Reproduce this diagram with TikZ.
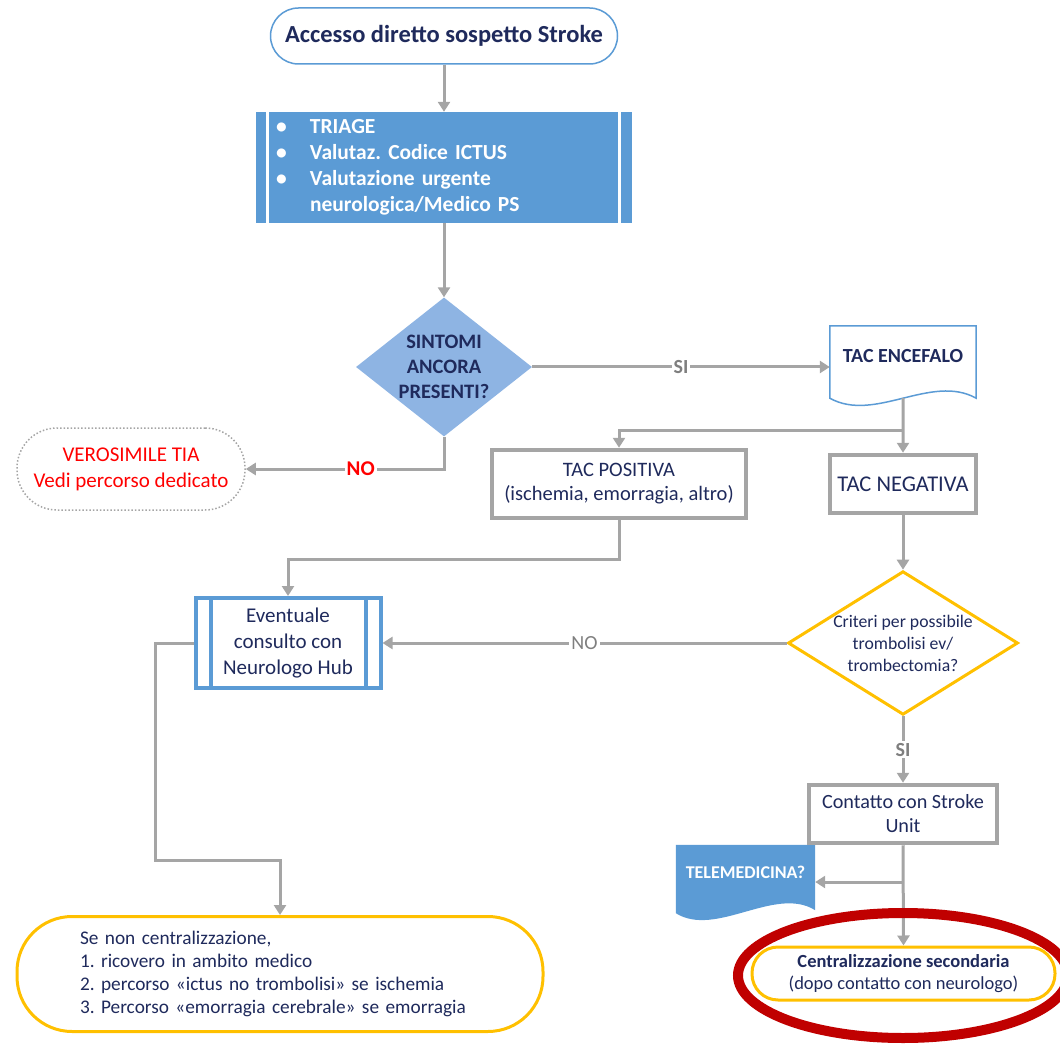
\documentclass[tikz,border=0pt]{standalone}
\usepackage{fontspec}
\setmainfont{Carlito}
\usetikzlibrary{shapes.geometric,arrows.meta,calc,backgrounds}

\definecolor{boxblue}{HTML}{5B9BD5}
\definecolor{diablue}{HTML}{8EB4E3}
\definecolor{inkblue}{HTML}{1F2A5C}
\definecolor{wiregray}{HTML}{A5A5A5}
\definecolor{taggray}{HTML}{7F7F7F}
\definecolor{gold}{HTML}{FFC000}
\definecolor{ringred}{HTML}{C00000}
\definecolor{alertred}{HTML}{FF0000}

\newcommand{\fsz}[2]{\fontsize{#1}{#2}\selectfont}
\frenchspacing

\begin{document}
\begin{tikzpicture}[x=1pt, y=-1pt,
  wire/.style={draw=wiregray, line width=3pt},
  flow/.style={wire, -{Triangle[width=12pt,length=10pt]}},
  txt/.style={text=inkblue, align=center, inner sep=0pt},
  stadium/.style={txt, draw, fill=white, rounded corners=#1},
  graybox/.style={txt, draw=wiregray, line width=4.5pt, fill=white},
  tag/.style={fill=white, inner sep=2pt, text=taggray}
]

\path [use as bounding box] (0,0) rectangle (1060,1048) ;
\clip (0,0) rectangle (1060,1048) ;

\node [stadium=28pt, draw=boxblue, line width=1.5pt, minimum width=347pt, minimum height=56pt, font=\fsz{24.5}{28}\bfseries] (access) at (444,36) {Accesso diretto sospetto Stroke} ;

\node [txt, fill=boxblue, text=white, align=left, text width=336pt, inner xsep=20pt, minimum height=111pt, font=\fsz{21.5}{26}\bfseries] (triage) at (444,167.5)
  {\makebox[34pt][l]{\textbullet}TRIAGE\\
   \makebox[34pt][l]{\textbullet}Valutaz. Codice ICTUS\\
   \makebox[34pt][l]{\textbullet}Valutazione urgente\\
   \makebox[34pt][l]{}neurologica/Medico PS} ;
\draw [white, line width=3pt] ($(triage.north west)+(12,0)$) to ($(triage.south west)+(12,0)$) ;
\draw [white, line width=3pt] ($(triage.north east)+(-13,0)$) to ($(triage.south east)+(-13,0)$) ;

\node [txt, diamond, fill=diablue, shape aspect=1.27, minimum width=176pt, minimum height=139pt, font=\fsz{20.5}{25}\bfseries] (sintomi) at (444,367) {SINTOMI\\ANCORA\\PRESENTI?} ;

\node [txt, minimum width=146pt, minimum height=60pt, font=\fsz{20}{24}\bfseries] (tacenc) at (903,356) {TAC ENCEFALO} ;
\draw [boxblue, line width=1.5pt] (tacenc.south west) |- (tacenc.north east) to ($(tacenc.south east)+(0,12)$)
  .. controls +(-45,-25) and +(45,25) .. ($(tacenc.south west)+(0,12)$) coordinate [pos=0.5] (tacfoot) -- cycle ;

\node [stadium=40pt, draw=wiregray, dotted, line width=1.5pt, minimum width=228pt, minimum height=82pt, text=alertred, font=\fsz{21}{26}] (tia) at (131,469) {VEROSIMILE TIA\\Vedi percorso dedicato} ;

\node [graybox, minimum width=254pt, minimum height=68pt, font=\fsz{20.5}{24}] (tacpos) at (619,484) {TAC POSITIVA\\(ischemia, emorragia, altro)} ;
\node [graybox, minimum width=146pt, minimum height=58pt, font=\fsz{22.5}{24}] (tacneg) at (903,484) {TAC NEGATIVA} ;

\node [txt, draw=boxblue, line width=4pt, fill=white, minimum width=185pt, minimum height=90pt, font=\fsz{21}{26}] (consulto) at (288,643) {Eventuale\\consulto con\\Neurologo Hub} ;
\draw [boxblue, line width=4pt] ($(consulto.north west)+(17,0)$) to ($(consulto.south west)+(17,0)$) ;
\draw [boxblue, line width=4pt] ($(consulto.north east)+(-17,0)$) to ($(consulto.south east)+(-17,0)$) ;

\node [txt, diamond, draw=gold, line width=3pt, fill=white, shape aspect=1.6, minimum width=230pt, minimum height=143pt, font=\fsz{17.7}{22}] (criteri) at (903,643) {Criteri per possibile\\trombolisi ev/\\trombectomia?} ;

\node [graybox, minimum width=188pt, minimum height=58pt, font=\fsz{20.2}{24}] (contatto) at (903,814) {Contatto con Stroke\\Unit} ;

\node [txt, text=white, minimum width=139pt, minimum height=54pt, font=\fsz{18}{20}\bfseries] (telemed) at (745.5,872) {TELEMEDICINA?} ;
\begin{scope}[on background layer]
\fill [boxblue] (telemed.south west) |- (telemed.north east) to ($(telemed.south east)+(0,11)$)
  .. controls +(-40,-25) and +(40,25) .. ($(telemed.south west)+(0,14)$) -- cycle ;
\end{scope}

\node [stadium=26pt, draw=gold, line width=3pt, minimum width=303pt, minimum height=53pt, font=\fsz{18.5}{22}] (central) at (903.5,973.5) {\textbf{Centralizzazione secondaria}\\(dopo contatto con neurologo)} ;

\node [stadium=55pt, draw=gold, line width=3pt, minimum width=526pt, minimum height=115pt, align=left, text width=400pt, font=\fsz{19.3}{23}] (ricovero) at (280,974)
  {Se non centralizzazione,\\
   1. ricovero in ambito medico\\
   2. percorso «ictus no trombolisi» se ischemia\\
   3. Percorso «emorragia cerebrale» se emorragia} ;

\draw [flow] (access.south) to (triage.north) ;
\draw [flow] (triage.south) to (sintomi.north) ;
\draw [flow] (sintomi.east) to node [tag, font=\fsz{20}{20}\bfseries] {SI} (sintomi.east -| tacenc.west) ;
\draw [flow] (sintomi.south) |- node [tag, pos=0.71, text=alertred, font=\fsz{21}{21}\bfseries] {NO} (tia.east) ;

\coordinate (fork) at (903,430) ;
\draw [flow] (tacfoot) to (fork) to (tacneg.north) ;
\draw [flow] (fork) -| (tacpos.north) ;
\draw [flow] (tacpos.south) to ++(0,39) -| (consulto.north) ;

\draw [flow] (tacneg.south) to (criteri.north) ;
\draw [flow] (criteri.west) to node [tag, font=\fsz{20}{20}] {NO} (consulto.east) ;
\draw [flow] (criteri.south) to node [tag, font=\fsz{20}{20}\bfseries] {SI} (contatto.north) ;
\draw [flow] (contatto.south) to (central.north) ;

\coordinate (telefork) at (903,882) ;
\draw [flow] (telefork) to (telefork -| telemed.east) ;

\coordinate (detour) at (155,860) ;
\draw [flow] (consulto.west) -| (detour) -| (ricovero.north) ;

\node [draw=ringred, line width=10pt, ellipse, minimum width=330pt, minimum height=125pt] (ring) at (903,975.5) {} ;

\end{tikzpicture}
\end{document}
